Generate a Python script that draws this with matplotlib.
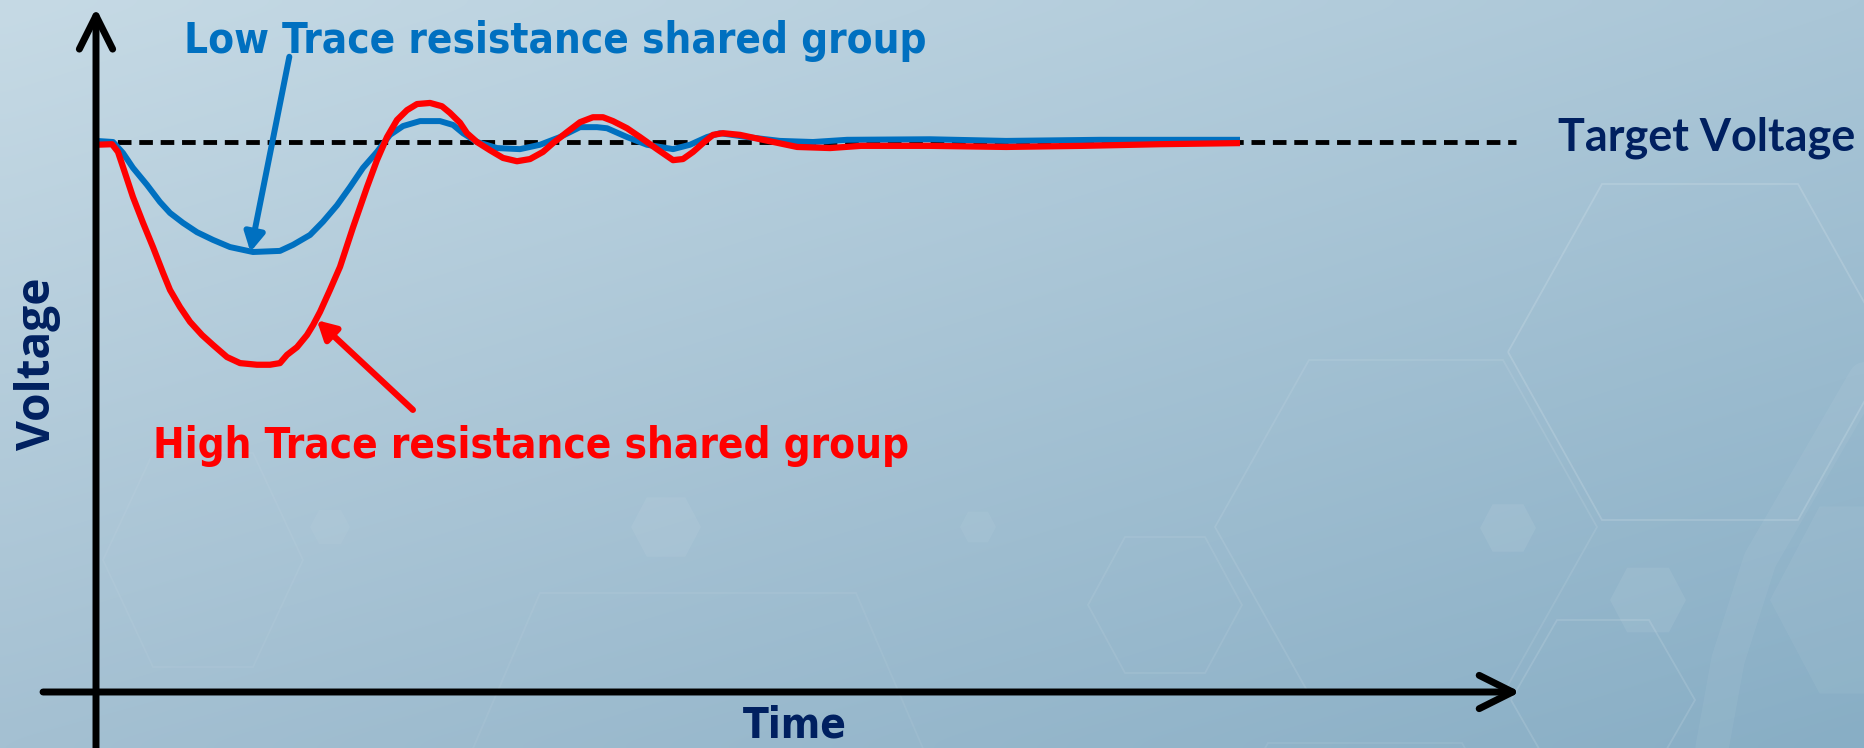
import numpy as np
import matplotlib
matplotlib.use("Agg")
import matplotlib.pyplot as plt
from matplotlib.patches import Polygon
from matplotlib import font_manager as fm
from matplotlib.colors import to_rgb

# ---------------- data (time in arbitrary units, voltage relative to target = 1.0) -------------
t_low = [0, 1.49, 2.36, 3.23, 4.46, 5.59, 6.47, 7.60, 8.83, 10.23, 11.71, 13.72, 16.08, 17.22,
         18.71, 19.84, 21.07, 22.20, 23.34, 24.56, 25.70, 26.84, 28.32, 30.07, 31.21, 32.08,
         33.30, 35.05, 37.06, 38.81, 40.56, 42.31, 43.79, 44.67, 46.42, 48.16, 50.44, 51.92,
         53.41, 54.55, 56.91, 59.79, 62.67, 65.65, 72.90, 79.55, 87.76, 100]
v_low = [1.002, 1.000, 0.980, 0.953, 0.922, 0.891, 0.871, 0.853, 0.836, 0.822, 0.809, 0.800,
         0.802, 0.813, 0.831, 0.855, 0.885, 0.918, 0.953, 0.982, 1.013, 1.029, 1.038, 1.038,
         1.031, 1.016, 1.000, 0.989, 0.987, 0.995, 1.009, 1.027, 1.027, 1.025, 1.009, 0.995,
         0.987, 0.995, 1.009, 1.016, 1.009, 1.002, 1.000, 1.004, 1.005, 1.002, 1.004, 1.004]

t_high = [0, 1.40, 1.92, 2.53, 3.23, 4.11, 4.98, 5.86, 6.47, 7.34, 8.22, 9.27, 10.23, 11.45,
          12.59, 14.07, 15.21, 16.08, 16.70, 17.57, 18.44, 18.97, 19.58, 20.45, 21.33, 22.47,
          23.69, 24.56, 25.44, 26.31, 27.19, 28.06, 29.20, 30.24, 30.94, 31.82, 32.43, 33.30,
          34.44, 35.58, 36.80, 37.94, 39.07, 39.95, 41.17, 42.31, 43.44, 44.32, 45.19, 46.42,
          47.55, 49.04, 50.44, 51.31, 52.19, 53.06, 53.93, 54.81, 56.29, 58.30, 61.28, 64.16,
          66.87, 72.90, 79.55, 86.28, 93.0, 100]
v_high = [0.995, 0.996, 0.982, 0.944, 0.900, 0.853, 0.809, 0.762, 0.731, 0.700, 0.673, 0.649,
          0.631, 0.609, 0.598, 0.595, 0.595, 0.598, 0.613, 0.627, 0.649, 0.667, 0.691, 0.731,
          0.773, 0.845, 0.918, 0.967, 1.009, 1.040, 1.058, 1.069, 1.071, 1.065, 1.053, 1.035,
          1.016, 1.000, 0.985, 0.971, 0.965, 0.969, 0.982, 0.998, 1.018, 1.036, 1.045, 1.045,
          1.038, 1.025, 1.009, 0.987, 0.967, 0.969, 0.982, 0.998, 1.013, 1.016, 1.013, 1.004,
          0.991, 0.989, 0.993, 0.993, 0.991, 0.993, 0.996, 0.998]

target_voltage = 1.0
target_end = 124.1

label_low = "Low Trace resistance shared group"
label_high = "High Trace resistance shared group"
label_target = "Target Voltage"
xlabel = "Time"
ylabel = "Voltage"

# ---------------- figure ----------------
W, H = 1865, 748
fig = plt.figure(figsize=(W / 100, H / 100), dpi=100)

entries = fm.fontManager.ttflist
names = {f.name for f in entries}
narrow_kw = dict(family="Liberation Sans")
if "Liberation Sans Narrow" in names:
    narrow_kw = dict(family="Liberation Sans Narrow")
elif "DejaVu Sans Condensed" in names:
    narrow_kw = dict(family="DejaVu Sans Condensed")
elif any(f.name == "DejaVu Sans" and "condensed" in str(f.stretch) for f in entries):
    narrow_kw = dict(family="DejaVu Sans", fontstretch="condensed")
wide = "Lato" if "Lato" in names else "DejaVu Sans"
opens = "Open Sans" if "Open Sans" in names else wide

# background
bg = fig.add_axes([0, 0, 1, 1])
bg.set_xlim(0, W)
bg.set_ylim(H, 0)
bg.axis("off")
tl, tr, bl, br = [np.array(to_rgb(c)) for c in ("#c6dae5", "#aac6d7", "#a4c0d2", "#88aec5")]
ny, nx = 60, 150
u = np.linspace(0, 1, nx)[None, :, None]
v = np.linspace(0, 1, ny)[:, None, None]
img = (1 - v) * ((1 - u) * tl + u * tr) + v * ((1 - u) * bl + u * br)
bg.imshow(img, extent=(0, W, H, 0), aspect="auto", interpolation="bicubic", zorder=0)


def hexagon(cx, cy, hw, hh, tw):
    return [(cx - hw, cy), (cx - tw, cy - hh), (cx + tw, cy - hh),
            (cx + hw, cy), (cx + tw, cy + hh), (cx - tw, cy + hh)]


outlines = [(1700, 352, 192, 168, 98, 0.15), (1406, 527, 191, 167, 97, 0.09),
            (1165, 605, 77, 68, 40, 0.08), (1603, 700, 92, 80, 46, 0.12),
            (698, 760, 230, 167, 158, 0.06), (203, 560, 100, 107, 50, 0.05),
            (1365, 910, 190, 167, 97, 0.08)]
for cx, cy, hw, hh, tw, a in outlines:
    bg.add_patch(Polygon(hexagon(cx, cy, hw, hh, tw), closed=True, fill=False,
                         edgecolor=(1, 1, 1, a), lw=1.3, zorder=1))
fills = [(330, 527, 20, 0.04), (666, 527, 35, 0.06), (978, 527, 18, 0.05),
         (1508, 528, 28, 0.07), (1648, 600, 38, 0.07), (1880, 600, 110, 0.05)]
for cx, cy, r, a in fills:
    bg.add_patch(Polygon(hexagon(cx, cy, r, r * 0.85, r * 0.55), closed=True,
                         facecolor=(1, 1, 1, a), edgecolor="none", zorder=1))
bg.plot([1870, 1760, 1728, 1712], [370, 560, 660, 748], color="white", alpha=0.05,
        lw=24, solid_capstyle="round", zorder=1)

# ---------------- main axes ----------------
ax = fig.add_axes([0, 0, 1, 1])
ax.patch.set_alpha(0)
ax.set_xlim(-96 / 11.44, (W - 96) / 11.44)
ax.set_ylim((692 - H) / 550, 692 / 550)
ax.axis("off")

navy = "#002060"
blue = "#0070c0"
red = "#ff0000"

# axes arrows
axis_arrow = dict(arrowstyle="->,head_length=0.8,head_width=0.4", lw=5, color="black",
                  mutation_scale=30, shrinkA=0, shrinkB=0, capstyle="round", joinstyle="round")
ax.annotate("", xy=(124.5, 0), xytext=(-4.63, 0), arrowprops=axis_arrow, zorder=5)
ax.annotate("", xy=(0, 1.2436), xytext=(0, -0.12), arrowprops=axis_arrow, zorder=5)

# target line
ax.plot([0, target_end], [target_voltage, target_voltage], color="black", lw=3.5,
        ls=(0, (2.8, 1.6)), zorder=2)

# traces
ax.plot(t_low, v_low, color=blue, lw=4.3, solid_joinstyle="round", solid_capstyle="butt", zorder=3)
ax.plot(t_high, v_high, color=red, lw=4.5, solid_joinstyle="round", solid_capstyle="butt", zorder=4)

# annotation arrows
ax.annotate("", xy=(13.5, 0.80), xytext=(16.9, 1.155),
            arrowprops=dict(arrowstyle="-|>,head_length=0.55,head_width=0.3", color=blue, lw=4.3,
                            mutation_scale=20, shrinkA=0, shrinkB=0), zorder=6)
ax.annotate("", xy=(19.3, 0.676), xytext=(27.7, 0.513),
            arrowprops=dict(arrowstyle="-|>,head_length=0.55,head_width=0.3", color=red, lw=4.5,
                            mutation_scale=20, shrinkA=0, shrinkB=0), zorder=6)

# texts (pixel coordinates on background axes)
texts = []
t1 = bg.text(184, 53, label_low, color=blue, fontsize=31, fontweight="bold",
             ha="left", va="baseline", zorder=7, **narrow_kw)
texts.append((t1, 744, False))
t2 = bg.text(153, 458, label_high, color=red, fontsize=31, fontweight="bold",
             ha="left", va="baseline", zorder=7, **narrow_kw)
texts.append((t2, 756, False))
t3 = bg.text(1558, 150, label_target, color=navy, fontsize=31, fontweight="bold", family=wide,
             ha="left", va="baseline", zorder=7)
texts.append((t3, 297, False))
t4 = bg.text(795, 746, xlabel, color=navy, fontsize=31, fontweight="bold",
             ha="center", va="bottom", zorder=7, **narrow_kw)
texts.append((t4, 104, False))
t5 = bg.text(50, 364, ylabel, color=navy, fontsize=31, fontweight="bold", family=opens,
             rotation=90, ha="center", va="baseline", rotation_mode="anchor", zorder=7)
texts.append((t5, 172, True))

# fit font sizes to the reference text extents (capped so heights stay close)
fig.canvas.draw()
rend = fig.canvas.get_renderer()
for txt, target, vertical in texts:
    bb = txt.get_window_extent(renderer=rend)
    size = bb.height if vertical else bb.width
    new = txt.get_fontsize() * target / size
    txt.set_fontsize(min(max(new, 26), 36))

fig.savefig("out.png", dpi=100)
